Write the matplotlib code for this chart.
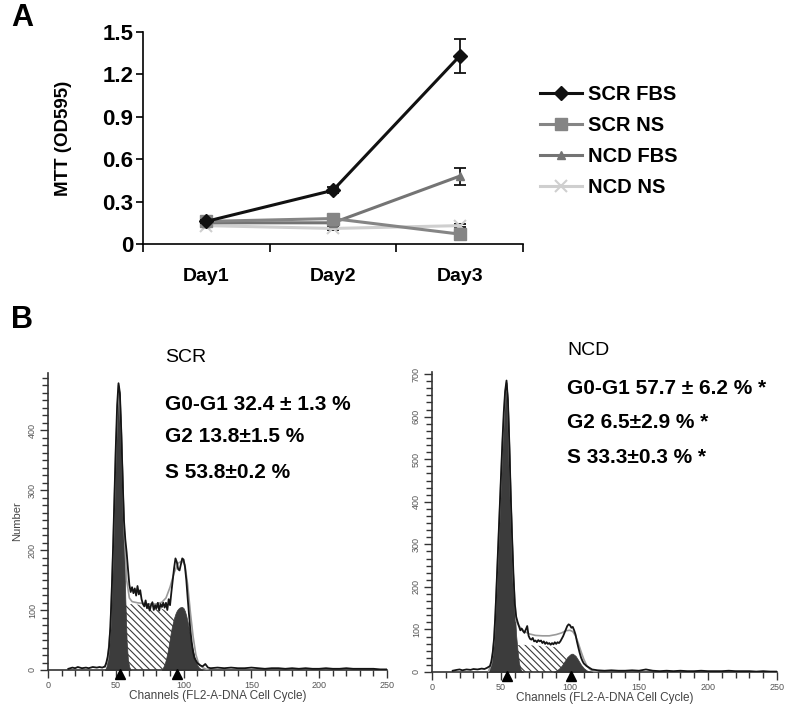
import numpy as np
import matplotlib
matplotlib.use("Agg")
import matplotlib.pyplot as plt

plt.rcParams['font.family'] = ['Liberation Sans', 'DejaVu Sans']
plt.rcParams['hatch.linewidth'] = 0.8

# ---------------- Panel A data ----------------
days = ['Day1', 'Day2', 'Day3']
series_names = ['SCR FBS', 'SCR NS', 'NCD FBS', 'NCD NS']
scr_fbs = [0.16, 0.38, 1.33]
scr_fbs_err = [0.01, 0.02, 0.12]
scr_ns = [0.16, 0.18, 0.07]
scr_ns_err = [0.01, 0.01, 0.01]
ncd_fbs = [0.15, 0.15, 0.48]
ncd_fbs_err = [0.01, 0.01, 0.06]
ncd_ns = [0.13, 0.11, 0.13]
ncd_ns_err = [0.01, 0.01, 0.01]
y_ticks_a = [0, 0.3, 0.6, 0.9, 1.2, 1.5]
y_ticklabels_a = ['0', '0.3', '0.6', '0.9', '1.2', '1.5']

# ---------------- Panel B data (SCR) ----------------
scr_meas_ch = [15, 18, 20, 22, 25, 28, 30, 33, 36, 38, 40] + list(range(42, 109)) + \
    [110, 112, 114, 116, 118, 120, 125, 130, 135, 140, 145, 150, 155, 160, 165, 170,
     175, 180, 185, 190, 195, 200, 205, 210, 215, 220, 225, 230, 235, 240, 245, 250]
scr_meas = [2, 4, 3, 5, 3, 4, 3, 5, 4, 5, 4] + \
    [6, 12, 22, 38, 72, 130, 205, 290, 372, 442,
     478, 462, 400, 322, 250, 218, 196, 168, 142, 130,
     138, 128, 136, 124, 140, 126, 133, 118, 110, 106,
     116, 103, 110, 99, 108, 113, 100, 108, 103, 112,
     99, 110, 105, 112, 104, 112, 100, 118, 108, 130,
     150, 170, 186, 180, 168, 166, 176, 186, 184, 172,
     150, 120, 92, 66, 46, 30, 20] + \
    [12, 8, 6, 10, 4, 3, 4, 3, 4, 3, 3, 4, 3, 2, 3, 3,
     2, 3, 2, 3, 2, 2, 3, 2, 2, 3, 2, 2, 2, 2, 1, 1]
scr_fit_ch = [42, 44, 46, 48, 50, 52, 54, 56, 58, 60, 62, 66, 70, 75, 80, 84, 87, 90, 93,
              96, 99, 101, 103, 105, 107, 109, 111, 114, 118]
scr_fit = [5, 18, 70, 200, 368, 475, 400, 245, 150, 120, 114, 112, 111, 110, 110, 113, 120,
           138, 162, 178, 182, 175, 142, 96, 56, 26, 11, 4, 0]
scr_g1_ch = list(range(42, 62))
scr_g1 = [0, 5, 15, 30, 65, 125, 195, 280, 362, 432, 474, 458, 395, 320, 240, 120, 48, 16, 5, 0]
scr_s_ch = [53, 55, 56, 58, 62, 66, 70, 74, 78, 82, 86, 89, 91, 93, 95, 97, 99, 101, 103, 105]
scr_s = [0, 60, 104, 109, 110, 109, 108, 107, 106, 104, 100, 96, 92, 84, 70, 52, 32, 15, 5, 0]
scr_g2_ch = list(range(84, 113)) + [114]
scr_g2 = [0, 5, 10, 18, 28, 40, 55, 68, 78, 87, 94, 99, 102, 104, 105, 105, 103, 98, 90, 80,
          68, 55, 42, 32, 22, 14, 9, 5, 3, 0]
scr_peaks = [53, 95.5]
scr_text = ['SCR', 'G0-G1 32.4 \u00b1 1.3 %', 'G2 13.8\u00b11.5 %', 'S 53.8\u00b10.2 %']

# ---------------- Panel B data (NCD) ----------------
ncd_meas_ch = [15, 18, 20, 22, 25, 28, 30, 33, 36, 38, 40] + list(range(42, 111)) + \
    [112, 114, 116, 118, 120, 125, 130, 135, 140, 145, 150, 155, 160, 165, 170, 175,
     180, 185, 190, 195, 200, 205, 210, 215, 220, 225, 230, 235, 240, 245, 250]
ncd_meas = [3, 5, 6, 4, 6, 5, 7, 6, 8, 7, 10] + \
    [14, 25, 45, 80, 140, 220, 300, 380, 460, 540,
     610, 660, 685, 640, 540, 420, 320, 230, 160, 130,
     118, 108, 98, 102, 96, 92, 100, 108, 85, 78,
     76, 80, 72, 74, 70, 75, 72, 74, 68, 72,
     66, 70, 66, 68, 64, 68, 65, 70, 66, 70,
     68, 72, 78, 84, 92, 100, 108, 112, 110, 104,
     106, 98, 88, 72, 58, 45, 34, 26, 20] + \
    [14, 10, 6, 5, 4, 3, 4, 3, 3, 4, 3, 6, 3, 2, 3, 2,
     3, 2, 2, 3, 2, 2, 2, 3, 2, 2, 2, 1, 2, 1, 1]
ncd_fit_ch = [41, 43, 45, 47, 49, 51, 53, 54, 55, 57, 59, 61, 63, 66, 70, 75, 80, 85, 90, 94,
              97, 100, 102, 104, 106, 108, 110, 112, 114, 116, 120]
ncd_fit = [2, 20, 75, 215, 375, 535, 655, 680, 635, 415, 220, 120, 108, 98, 90, 86, 85, 85,
           88, 92, 97, 98, 95, 85, 68, 48, 30, 16, 8, 3, 0]
ncd_g1_ch = list(range(41, 67))
ncd_g1 = [0, 8, 20, 40, 75, 135, 215, 295, 375, 455, 535, 605, 655, 680, 635, 535, 415, 310,
          215, 140, 85, 50, 22, 8, 2, 0]
ncd_s_ch = [58, 60, 62, 66, 70, 75, 80, 85, 90, 92, 94, 96, 98, 100, 102, 104, 106]
ncd_s = [0, 40, 63, 64, 63, 62, 61, 60, 58, 55, 48, 38, 28, 18, 10, 4, 0]
ncd_g2_ch = [88, 90, 92, 94, 96, 98, 100, 101, 102, 104, 106, 108, 110, 112, 114, 116]
ncd_g2 = [0, 3, 8, 15, 25, 35, 41, 43, 43, 38, 28, 17, 9, 4, 1, 0]
ncd_peaks = [54, 101]
ncd_text = ['NCD', 'G0-G1 57.7 \u00b1 6.2 % *', 'G2 6.5\u00b12.9 % *', 'S 33.3\u00b10.3 % *']

W, H = 800, 715
fig = plt.figure(figsize=(W / 100, H / 100), dpi=100)


def fx(px):
    return px / W


def fy(py):
    return 1 - py / H


BOLD = 'bold'

# ---------------- Panel A ----------------
axA = fig.add_axes([fx(143), fy(244), fx(523) - fx(143), fy(32) - fy(244)])
xpos = np.arange(len(days)) + 0.5
styles = [
    (scr_fbs, scr_fbs_err, '#111111', 'D', 7.5, 4),
    (scr_ns, scr_ns_err, '#858585', 's', 8.5, 3),
    (ncd_fbs, ncd_fbs_err, '#747474', '^', 6, 2),
    (ncd_ns, ncd_ns_err, '#cfcfcf', 'x', 9, 1),
]
handles = []
for (vals, err, col, mk, ms, z), name in zip(styles, series_names):
    axA.errorbar(xpos, vals, yerr=err, fmt='none', ecolor='#111111', elinewidth=1.3,
                 capsize=4, capthick=1.3, zorder=z)
    ln, = axA.plot(xpos, vals, color=col, lw=2.2, marker=mk, ms=ms, mew=1.5 if mk == 'x' else 1,
                   mec=col, mfc=col, zorder=z + 0.5, label=name)
    handles.append(ln)
axA.set_xlim(0, 3)
axA.set_ylim(0, 1.5)
axA.set_yticks(y_ticks_a)
axA.set_yticklabels(y_ticklabels_a, fontweight=BOLD)
axA.set_xticks([0, 1, 2, 3])
axA.set_xticklabels([])
axA.set_xticks(xpos, minor=True)
axA.set_xticklabels(days, minor=True, fontweight=BOLD)
axA.tick_params(axis='x', which='minor', length=0, pad=17, labelsize=14)
axA.tick_params(axis='x', which='major', length=6, width=1.2, direction='out')
axA.tick_params(axis='y', length=5, width=1.2, direction='out', pad=2, labelsize=16)
for s in ['top', 'right']:
    axA.spines[s].set_visible(False)
for s in ['left', 'bottom']:
    axA.spines[s].set_linewidth(1.2)
axA.set_ylabel('MTT (OD595)', fontsize=13.5, fontweight=BOLD)
axA.yaxis.set_label_coords(-(143 - 72) / 380, 0.5)
axA.legend(handles=handles, loc='upper left', bbox_to_anchor=(fx(540), fy(85)),
           bbox_transform=fig.transFigure, frameon=False,
           prop={'size': 14.5, 'weight': BOLD},
           handlelength=2.1, handletextpad=0.3, labelspacing=0.6, borderaxespad=0,
           borderpad=0)

fig.text(fx(22), fy(18), 'A', fontsize=22, fontweight='bold', ha='center', va='center')
fig.text(fx(22), fy(320), 'B', fontsize=22, fontweight='bold', ha='center', va='center')


# ---------------- Panel B ----------------
def draw_hist(rect, meas_ch, meas, fit_ch, fit, g1_ch, g1, s_ch, s, g2_ch, g2, ymax, ystep,
              nminor, peaks, ylabel):
    ax = fig.add_axes(rect)
    ax.fill_between(s_ch, 0, s, facecolor='white', edgecolor='#3a3a3a', hatch='\\\\\\\\\\',
                    linewidth=0, zorder=1)
    ax.fill_between(g1_ch, 0, g1, facecolor='#3c3c3c', edgecolor='#3c3c3c', linewidth=0.5,
                    zorder=2)
    ax.fill_between(g2_ch, 0, g2, facecolor='#3c3c3c', edgecolor='#3c3c3c', linewidth=0.5,
                    zorder=2)
    ax.plot(fit_ch, fit, color='#9a9a9a', lw=1.2, zorder=3)
    ax.plot(meas_ch, meas, color='#151515', lw=1.3, zorder=4)
    ax.plot(peaks, [-0.014] * len(peaks), linestyle='none', marker='^', ms=7, color='black',
            transform=ax.get_xaxis_transform(), clip_on=False, zorder=5)
    ax.set_xlim(0, 250)
    ax.set_ylim(0, ymax)
    ax.set_xticks(np.arange(0, 251, 50))
    ax.set_xticks(np.arange(0, 251, 10), minor=True)
    yt = np.arange(0, ymax + 1, ystep)
    ax.set_yticks(yt)
    ax.set_yticks(np.arange(0, ymax, ystep / nminor), minor=True)
    ax.set_yticklabels([str(int(v)) for v in yt], rotation=90, va='center')
    ax.tick_params(axis='both', which='major', length=6, width=1, color='#333333',
                   labelsize=6.5, labelcolor='#555555', pad=2)
    ax.tick_params(axis='both', which='minor', length=4, width=1, color='#333333')
    for sp in ['top', 'right']:
        ax.spines[sp].set_visible(False)
    for sp in ['left', 'bottom']:
        ax.spines[sp].set_linewidth(1.2)
        ax.spines[sp].set_color('#333333')
    ax.set_xlabel('Channels (FL2-A-DNA Cell Cycle)', fontsize=8.5, color='#444444', labelpad=0)
    if ylabel:
        ax.set_ylabel(ylabel, fontsize=8, color='#444444', labelpad=4)
    return ax


axL = draw_hist([fx(48), fy(670), fx(387) - fx(48), fy(373) - fy(670)],
                scr_meas_ch, scr_meas, scr_fit_ch, scr_fit, scr_g1_ch, scr_g1,
                scr_s_ch, scr_s, scr_g2_ch, scr_g2, 495, 100, 8, scr_peaks, 'Number')
axR = draw_hist([fx(432), fy(672), fx(777) - fx(432), fy(372) - fy(672)],
                ncd_meas_ch, ncd_meas, ncd_fit_ch, ncd_fit, ncd_g1_ch, ncd_g1,
                ncd_s_ch, ncd_s, ncd_g2_ch, ncd_g2, 705, 100, 6, ncd_peaks, None)

for i, (txt, (x, y)) in enumerate(zip(scr_text, [(165, 358), (165, 405), (165, 437), (165, 472)])):
    fig.text(fx(x), fy(y), txt, fontsize=14 if i == 0 else 15, ha='left', va='center',
             fontweight='normal' if i == 0 else BOLD)
for i, (txt, (x, y)) in enumerate(zip(ncd_text, [(567, 350), (567, 389), (567, 422), (567, 457)])):
    fig.text(fx(x), fy(y), txt, fontsize=14 if i == 0 else 15, ha='left', va='center',
             fontweight='normal' if i == 0 else BOLD)

fig.savefig('out.png', dpi=100)
